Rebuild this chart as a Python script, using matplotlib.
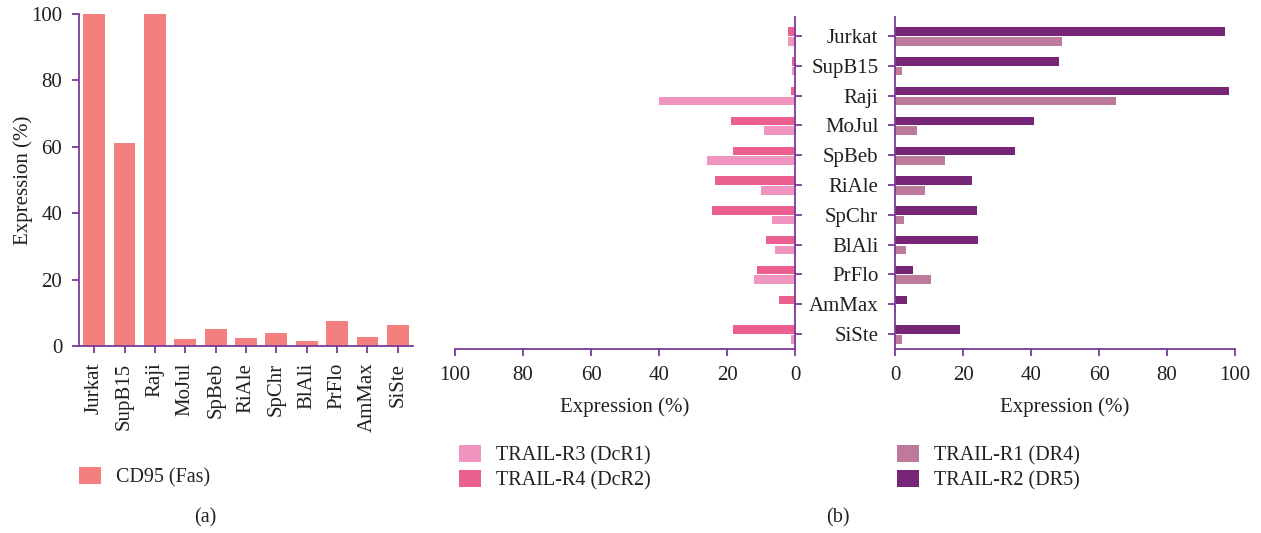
import numpy as np
import matplotlib
matplotlib.use("Agg")
import matplotlib.pyplot as plt
from matplotlib.patches import Patch

plt.rcParams['font.family'] = ['Liberation Serif', 'DejaVu Serif']
plt.rcParams['text.color'] = '#231f20'
plt.rcParams['axes.labelcolor'] = '#231f20'
plt.rcParams['xtick.color'] = '#231f20'
plt.rcParams['ytick.color'] = '#231f20'

cells = ["Jurkat", "SupB15", "Raji", "MoJul", "SpBeb", "RiAle",
         "SpChr", "BlAli", "PrFlo", "AmMax", "SiSte"]

# (a) CD95 surface expression
cd95 = [100, 61.2, 100, 2.2, 5.0, 2.4, 4.0, 1.6, 7.6, 2.6, 6.2]

# (b) decoy receptors (left) and death receptors (right)
trail_r3 = [2.1, 1.0, 40.1, 9.2, 26.0, 10.1, 6.9, 6.0, 12.2, 0.2, 1.2]
trail_r4 = [2.2, 1.0, 1.2, 18.9, 18.3, 23.6, 24.5, 8.6, 11.3, 4.8, 18.3]
trail_r1 = [49.0, 2.2, 64.9, 6.4, 14.6, 8.7, 2.5, 3.1, 10.5, 0.3, 2.0]
trail_r2 = [97.0, 48.2, 98.2, 40.8, 35.2, 22.5, 24.0, 24.3, 5.2, 3.4, 19.0]

c_cd95 = '#f47f7f'
c_r3 = '#f095c0'
c_r4 = '#eb6090'
c_r1 = '#bd7a9b'
c_r2 = '#772677'
axis_col = '#7b3a96'
fs = 15

W, H = 1261, 533
fig = plt.figure(figsize=(W / 100, H / 100), dpi=100)


def px_axes(left, right, top, bottom):
    return fig.add_axes([left / W, 1 - bottom / H, (right - left) / W, (bottom - top) / H])


def style(ax, sides):
    for s in ['left', 'right', 'top', 'bottom']:
        if s in sides:
            ax.spines[s].set_color(axis_col)
            ax.spines[s].set_linewidth(1.3)
        else:
            ax.spines[s].set_visible(False)
    ax.tick_params(direction='out', length=5, width=1.3, color=axis_col,
                   labelsize=fs, pad=7)


# ---- panel (a) ----
ax_a = px_axes(79, 413, 14, 346)
x = np.arange(len(cells))
ax_a.bar(x, cd95, width=0.72, color=c_cd95, label='CD95 (Fas)')
ax_a.set_xlim(-0.5, len(cells) - 0.5)
ax_a.set_ylim(0, 100)
ax_a.set_yticks(np.arange(0, 101, 20))
ax_a.set_xticks(x)
ax_a.set_xticklabels(cells, rotation=90, va='top', ha='center')
style(ax_a, ['left', 'bottom'])
ax_a.set_ylabel('Expression (%)', fontsize=fs, labelpad=-1)

# ---- panel (b) ----
y = np.arange(len(cells))
h = 0.285
up, down = -0.15, 0.175

ax_l = px_axes(455, 795, 17, 349)
ax_l.barh(y + down, trail_r3, height=h, color=c_r3, label='TRAIL-R3 (DcR1)')
ax_l.barh(y + up, trail_r4, height=h, color=c_r4, label='TRAIL-R4 (DcR2)')
ax_l.set_xlim(100, 0)
ax_l.set_ylim(len(cells) - 0.5, -0.64)
ax_l.set_xticks(np.arange(0, 101, 20))
ax_l.set_yticks(y)
ax_l.yaxis.tick_right()
ax_l.tick_params(axis='y', labelright=False)
style(ax_l, ['right', 'bottom'])
ax_l.set_xlabel('Expression (%)', fontsize=fs, labelpad=9)

ax_r = px_axes(895, 1235, 17, 349)
ax_r.barh(y + down, trail_r1, height=h, color=c_r1, label='TRAIL-R1 (DR4)')
ax_r.barh(y + up, trail_r2, height=h, color=c_r2, label='TRAIL-R2 (DR5)')
ax_r.set_xlim(0, 100)
ax_r.set_ylim(len(cells) - 0.5, -0.64)
ax_r.set_xticks(np.arange(0, 101, 20))
ax_r.set_yticks(y)
ax_r.set_yticklabels(cells)
style(ax_r, ['left', 'bottom'])
ax_r.tick_params(axis='y', pad=7)
ax_r.set_xlabel('Expression (%)', fontsize=fs, labelpad=9)

# ---- legends ----
leg_kw = dict(frameon=False, fontsize=14.5, handlelength=1.1, handleheight=0.95,
              handletextpad=0.75, labelspacing=0.2, borderpad=0, borderaxespad=0,
              loc='upper left')


def add_legend(labels, colors, left, top):
    handles = [Patch(facecolor=c, edgecolor='none') for c in colors]
    fig.legend(handles, labels, bbox_to_anchor=(left / W, 1 - top / H), **leg_kw)


add_legend(['CD95 (Fas)'], [c_cd95], 79, 467)
add_legend(['TRAIL-R3 (DcR1)', 'TRAIL-R4 (DcR2)'], [c_r3, c_r4], 459, 445)
add_legend(['TRAIL-R1 (DR4)', 'TRAIL-R2 (DR5)'], [c_r1, c_r2], 897, 445)

fig.text(205 / W, 1 - 518 / H, '(a)', fontsize=14.5, ha='center', va='center')
fig.text(838 / W, 1 - 518 / H, '(b)', fontsize=14.5, ha='center', va='center')

fig.savefig('out.png', dpi=100)
